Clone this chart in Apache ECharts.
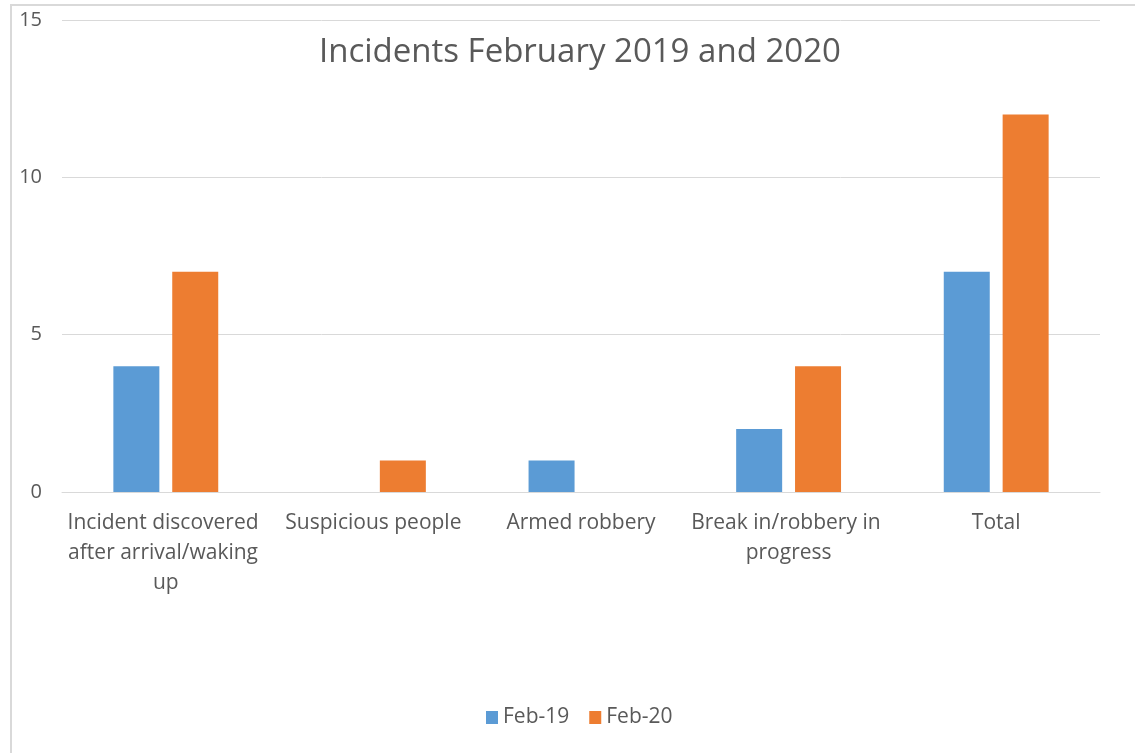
<!DOCTYPE html>
<html>
<head>
<meta charset="utf-8">
<script src="https://cdn.jsdelivr.net/npm/echarts@6/dist/echarts.min.js"></script>
<style>
html,body{margin:0;padding:0;background:#fff;}
#frame{position:absolute;left:10px;top:4px;width:1125px;height:749px;border-left:2px solid #d9d9d9;border-top:2px solid #d9d9d9;box-sizing:border-box;}
#main{position:absolute;left:0;top:0;width:1135px;height:753px;}
</style>
</head>
<body>
<div id="frame"></div>
<div id="main"></div>
<script>
const categories = ["Incident discovered after arrival/waking up", "Suspicious people", "Armed robbery", "Break in/robbery in progress", "Total"];
const feb19 = [4, 0, 1, 2, 7];
const feb20 = [7, 1, 0, 4, 12];
const seriesNames = ["Feb-19", "Feb-20"];
const titleText = "Incidents February 2019 and 2020";

const chart = echarts.init(document.getElementById('main'));
const font = "'Open Sans', Lato, sans-serif";
chart.setOption({
  animation: false,
  title: {
    text: titleText,
    left: 314,
    top: 31,
    textStyle: {fontFamily: font, fontSize: 33, fontWeight: 'normal', color: '#595959'}
  },
  legend: {
    bottom: 20,
    left: 481,
    itemWidth: 12,
    itemHeight: 13,
    itemGap: 20,
    icon: 'rect',
    textStyle: {fontFamily: font, fontSize: 21, color: '#595959'},
    data: seriesNames
  },
  grid: {left: 62, right: 35, top: 20, bottom: 261, containLabel: false},
  xAxis: {
    type: 'category',
    data: categories,
    axisLine: {lineStyle: {color: '#d9d9d9'}},
    axisTick: {show: false},
    axisLabel: {
      interval: 0,
      margin: 16,
      width: 205,
      overflow: 'break',
      lineHeight: 30,
      fontFamily: font, fontSize: 21, color: '#595959'
    }
  },
  yAxis: {
    type: 'value',
    min: 0, max: 15, interval: 5,
    axisLine: {show: false},
    axisTick: {show: false},
    splitLine: {lineStyle: {color: '#d9d9d9'}},
    axisLabel: {margin: 20, fontFamily: font, fontSize: 20, color: '#595959'}
  },
  series: [
    {name: seriesNames[0], type: 'bar', data: feb19, barWidth: 46, barGap: '28%', itemStyle: {color: '#5B9BD5'}},
    {name: seriesNames[1], type: 'bar', data: feb20, barWidth: 46, barGap: '28%', itemStyle: {color: '#ED7D31'}}
  ]
});
</script>
</body>
</html>
